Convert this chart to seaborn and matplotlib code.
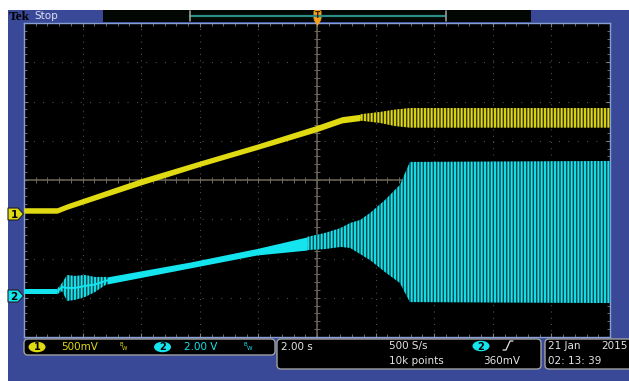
import numpy as np
import matplotlib.pyplot as plt
import seaborn as sns
from matplotlib.patches import Rectangle, FancyBboxPatch, Polygon, Ellipse
from matplotlib.ticker import MultipleLocator

# screen time axis: 10 div x 2.00 s
# channel 1, 500 mV/div -- band top / bottom in volts
ch1_t = [0.0, 1.13, 1.47, 3.99, 6.04, 7.95, 10.0, 10.85, 11.47, 12.15, 12.66, 13.17, 20.0]
ch1_hi = [0.08, 0.08, 0.13, 0.45, 0.68, 0.89, 1.13, 1.24, 1.27, 1.30, 1.33, 1.35, 1.35]
ch1_lo = [0.01, 0.01, 0.06, 0.37, 0.61, 0.82, 1.05, 1.16, 1.19, 1.16, 1.12, 1.10, 1.10]

# channel 2, 2.00 V/div
ch2_t = [0.0, 1.13, 1.30, 1.47, 1.74, 2.08, 2.42, 2.83, 5.67, 7.95, 9.66,
         10.27, 10.80, 11.13, 11.47, 11.81, 12.32, 12.83, 13.17, 20.0]
ch2_hi = [0.36, 0.36, 0.66, 1.07, 1.02, 1.07, 0.97, 0.97, 1.73, 2.42, 3.01,
          3.21, 3.46, 3.72, 3.87, 4.23, 4.89, 5.66, 6.83, 6.88]
ch2_lo = [0.08, 0.08, 0.25, -0.25, -0.20, -0.05, 0.20, 0.61, 1.43, 2.09, 2.34,
          2.39, 2.50, 2.45, 2.14, 1.83, 1.22, 0.66, -0.31, -0.36]

ch1_label = '500mV'
ch2_label = '2.00 V'
timebase = '2.00 s'
rate = '500 S/s'
points = '10k points'
trig_level = '360mV'
date_str = '21 Jan'
year_str = '2015'
time_str = '02: 13: 39'

YEL = '#e0da12'
CYAN = '#14e4ee'
BLUE = '#3a4898'
W, H = 629, 381

sns.set_style('dark')
plt.rcParams['hatch.linewidth'] = 1.35
plt.rcParams['font.family'] = ['DejaVu Sans']

fig = plt.figure(figsize=(W / 100, H / 100), dpi=100, facecolor='white')

# background frame in pixel coords
bg = fig.add_axes([0, 0, 1, 1], zorder=0)
bg.set_xlim(0, W)
bg.set_ylim(H, 0)
bg.axis('off')
bg.add_patch(Rectangle((8, 10), W, H, color=BLUE, lw=0))

# scope graticule
x0, x1, y0, y1 = 24, 610, 23, 337
ax = fig.add_axes([x0 / W, (H - y1) / H, (x1 - x0) / W, (y1 - y0) / H], zorder=1)
ax.set_facecolor('black')
ax.set_xlim(0, 20)
ax.set_ylim(-4, 4)
ax.xaxis.set_major_locator(MultipleLocator(2))
ax.yaxis.set_major_locator(MultipleLocator(1))
ax.xaxis.set_minor_locator(MultipleLocator(0.4))
ax.yaxis.set_minor_locator(MultipleLocator(0.2))
ax.tick_params(which='both', direction='in', color='#7c7c7c', labelleft=False,
               labelbottom=False, left=True, right=True, top=True, bottom=True)
ax.tick_params(which='major', length=3, width=0.8)
ax.tick_params(which='minor', length=2, width=0.6)
ax.xaxis.grid(True, color='#6a6a6a', lw=0.8, ls=(0, (0.7, 4.95)))
ax.yaxis.grid(True, color='#6a6a6a', lw=0.8, ls=(0, (0.7, 7.74)))
for s in ax.spines.values():
    s.set_color('#86a0d4')
    s.set_linewidth(1.0)

ax.axhline(0, color='#6e695a', lw=1.1, zorder=1)
ax.axvline(10, color='#6e695a', lw=1.1, zorder=1)
ax.plot(np.arange(0, 20.01, 0.4), np.zeros(51), ls='none', marker='|', ms=4,
        mew=0.7, color='#6e695a', zorder=1)
ax.plot(np.full(41, 10.0), np.arange(-4, 4.01, 0.2), ls='none', marker='_', ms=4,
        mew=0.7, color='#6e695a', zorder=1)


def draw_channel(t, hi, lo, scale, offset, color, dark, solid, burst, mid):
    t = np.asarray(t)
    hi = np.asarray(hi) / scale + offset
    lo = np.asarray(lo) / scale + offset
    for a, b in burst:
        s = slice(a, b + 1)
        ax.fill_between(t[s], lo[s], hi[s], facecolor=dark, edgecolor=color,
                        hatch='|||||', lw=0, zorder=2)
    for a, b in solid:
        s = slice(a, b + 1)
        ax.fill_between(t[s], lo[s], hi[s], color=color, lw=0, zorder=3)
    s = slice(mid[0], mid[1] + 1)
    sns.lineplot(x=t[s], y=(hi[s] + lo[s]) / 2, color=color, lw=1.4, ax=ax, zorder=3)


draw_channel(ch1_t, ch1_hi, ch1_lo, 0.5, -0.866, YEL, '#3a3604',
             solid=[(0, 8)], burst=[(8, 12)], mid=(0, 8))
draw_channel(ch2_t, ch2_hi, ch2_lo, 2.0, -2.955, CYAN, '#06484d',
             solid=[(0, 1), (7, 10)], burst=[(1, 7), (10, 19)], mid=(0, 10))
ax.set_xlim(0, 20)
ax.set_ylim(-4, 4)
ax.set_xlabel('')
ax.set_ylabel('')

# overlay: top bar, markers, readouts
fg = fig.add_axes([0, 0, 1, 1], zorder=2)
fg.set_xlim(0, W)
fg.set_ylim(H, 0)
fg.axis('off')
fg.patch.set_alpha(0)

fg.text(8.5, 16.5, 'Tek', family='Liberation Serif', weight='bold', fontsize=9.5,
        color='black', va='center', ha='left')
fg.text(34.5, 16, 'Stop', fontsize=7.5, color='#dde1f4', va='center', ha='left')
fg.add_patch(Rectangle((103, 10), 428, 12, color='#030703', lw=0))
fg.plot([190, 445], [15.5, 15.5], color='#2a8c86', lw=1.6)
for bx in (189.5, 445.5):
    fg.plot([bx, bx], [11, 21], color='#9a9a9a', lw=1.2)
# trigger position marker
fg.add_patch(FancyBboxPatch((313.5, 10), 8, 10, boxstyle='round,pad=0,rounding_size=2',
                            color='#f5a01c', lw=0))
fg.add_patch(Polygon([(313.5, 19.5), (321.5, 19.5), (317.5, 26)], color='#f5a01c', lw=0))
fg.text(317.5, 15, 'T', fontsize=5.5, weight='bold', color='#3a2200', ha='center', va='center')

# channel ground markers
for cy, col, lab in ((214, YEL, '1'), (296, CYAN, '2')):
    fg.add_patch(Polygon([(8, cy - 6), (18, cy - 6), (23.5, cy), (18, cy + 6), (8, cy + 6)],
                         facecolor=col, edgecolor='#222222', lw=0.8))
    fg.text(14, cy + 0.5, lab, fontsize=7.5, weight='bold', color='black',
            ha='center', va='center')

# readout boxes
for bx, by, bw, bh in ((24, 339, 251, 16), (277, 339, 264, 30), (545, 339, 100, 30)):
    fg.add_patch(FancyBboxPatch((bx, by), bw, bh, boxstyle='round,pad=0,rounding_size=4',
                                facecolor='black', edgecolor='#a0a0a0', lw=1.0))


def chan_badge(x, y, col, lab):
    fg.add_patch(Ellipse((x, y), 17, 10.5, color=col, lw=0))
    fg.text(x, y + 0.5, lab, fontsize=7, weight='bold', color='black', ha='center', va='center')


def bw_mark(x, y, col):
    fg.text(x, y - 2, 'B', fontsize=4, color=col, ha='left', va='center')
    fg.text(x + 3, y + 2, 'W', fontsize=4, color=col, ha='left', va='center')


chan_badge(37, 347, YEL, '1')
fg.text(61, 347.5, ch1_label, fontsize=7.5, color=YEL, va='center', ha='left')
bw_mark(119, 347, YEL)
chan_badge(162.5, 347, CYAN, '2')
fg.text(184, 347.5, ch2_label, fontsize=7.5, color=CYAN, va='center', ha='left')
bw_mark(244, 347, CYAN)

TXT = '#e4e4e4'
fg.text(281, 347, timebase, fontsize=7.5, color=TXT, va='center', ha='left')
fg.text(389, 346, rate, fontsize=7.5, color=TXT, va='center', ha='left')
fg.text(389, 361, points, fontsize=7.5, color=TXT, va='center', ha='left')
chan_badge(481, 346, CYAN, '2')
fg.plot([503, 506, 510, 513], [350, 350, 341, 341], color=TXT, lw=0.9)
fg.text(483, 361, trig_level, fontsize=7.5, color=TXT, va='center', ha='left')
fg.text(548, 346, date_str, fontsize=7.5, color=TXT, va='center', ha='left')
fg.text(628, 346, year_str, fontsize=7.5, color=TXT, va='center', ha='right')
fg.text(548, 361, time_str, fontsize=7.5, color=TXT, va='center', ha='left')

fig.savefig('out.png', dpi=100, facecolor='white')
